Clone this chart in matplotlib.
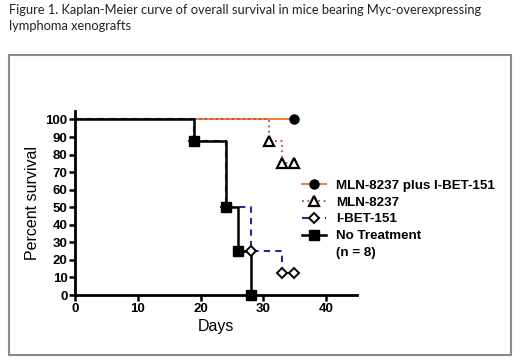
import matplotlib
matplotlib.use("Agg")
import matplotlib.pyplot as plt
from matplotlib.lines import Line2D
from matplotlib.patches import Rectangle

# Kaplan-Meier data (days, percent survival)
combo_days = [0, 35]
combo_surv = [100, 100]
mln_days = [0, 31, 33, 35]
mln_surv = [100, 87.5, 75, 75]
ibet_days = [0, 19, 24, 28, 33, 35]
ibet_surv = [100, 87.5, 50, 25, 12.5, 12.5]
notx_days = [0, 19, 24, 26, 28]
notx_surv = [100, 87.5, 50, 25, 0]

labels = ["MLN-8237 plus I-BET-151", "MLN-8237", "I-BET-151", "No Treatment"]
x_ticks = [0, 10, 20, 30, 40]
y_ticks = [0, 10, 20, 30, 40, 50, 60, 70, 80, 90, 100]

W, H = 520, 364
fig = plt.figure(figsize=(W / 100, H / 100), dpi=100)
fig.patch.set_facecolor("white")

# caption and outer frame
fig.text(9 / W, 1 - 4 / H,
         "Figure 1. Kaplan-Meier curve of overall survival in mice bearing Myc-overexpressing\nlymphoma xenografts",
         ha="left", va="top", fontsize=9.3, family="Lato", color="#222222", linespacing=1.4)
fig.patches.append(Rectangle((9 / W, 1 - 355 / H), 502 / W, 300 / H, transform=fig.transFigure,
                             fill=False, edgecolor="#8a8a8a", linewidth=1.5))

ax = fig.add_axes([75.3 / W, 69 / H, (357 - 75.3) / W, (295 - 110.7) / H])

c_orange = "#e8843e"
c_red = "#b04a4a"
c_blue = "#28289a"

ax.step(combo_days, combo_surv, where="post", color=c_orange, lw=1.5, zorder=2)
ax.plot(combo_days[1:], combo_surv[1:], "o", color="black", ms=6.5, zorder=6)

ax.step(mln_days, mln_surv, where="post", color=c_red, lw=1.3, ls=(0, (1, 2)), zorder=3)
ax.plot(mln_days[1:], mln_surv[1:], "^", mfc="white", mec="black", mew=1.6, ms=6.5, ls="none", zorder=6)

ax.step(ibet_days, ibet_surv, where="post", color=c_blue, lw=1.5, ls=(0, (3, 2.5)), zorder=3)
ax.plot(ibet_days[-2:], ibet_surv[-2:], color=c_blue, lw=1.3, zorder=3)
ax.plot(ibet_days[1:], ibet_surv[1:], "D", mfc="white", mec="black", mew=1.4, ms=5.5, ls="none", zorder=5)

ax.step(notx_days, notx_surv, where="post", color="black", lw=1.8, zorder=4)
ax.plot(notx_days[1:], notx_surv[1:], "s", color="black", ms=7, ls="none", zorder=7, clip_on=False)

ax.set_xlim(0, 45)
ax.set_ylim(0, 105)
ax.set_xticks(x_ticks)
ax.set_yticks(y_ticks)
for s in ["top", "right"]:
    ax.spines[s].set_visible(False)
for s in ["left", "bottom"]:
    ax.spines[s].set_linewidth(2)
ax.tick_params(direction="out", length=4, width=1.8, pad=1.5)
for lab in ax.get_xticklabels() + ax.get_yticklabels():
    lab.set_family("Liberation Sans")
    lab.set_fontweight("bold")
    lab.set_fontsize(9.5)
ax.set_xlabel("Days", family="Liberation Sans", fontsize=11.5, labelpad=3)
ax.set_ylabel("Percent survival", family="Liberation Sans", fontsize=11.5, labelpad=4)

handles = [
    Line2D([], [], color=c_orange, lw=1.5, marker="o", mfc="black", mec="black", ms=6.5),
    Line2D([], [], color=c_red, lw=1.3, ls=(0, (1, 2)), marker="^", mfc="white", mec="black", mew=1.6, ms=6.5),
    Line2D([], [], color=c_blue, lw=1.5, ls=(0, (3, 2.5)), marker="D", mfc="white", mec="black", mew=1.4, ms=5.5),
    Line2D([], [], color="black", lw=1.8, marker="s", ms=7),
    Line2D([], [], color="none"),
]
leg = ax.legend(handles, labels + ["(n = 8)"], loc="upper left",
                bbox_to_anchor=(291 / W, 1 - 169 / H), bbox_transform=fig.transFigure,
                frameon=False, handlelength=1.8, handletextpad=0.75, labelspacing=0.33,
                borderpad=0.3, prop={"family": "Liberation Sans", "weight": "bold", "size": 9.6})

fig.savefig("out.png", dpi=100)
